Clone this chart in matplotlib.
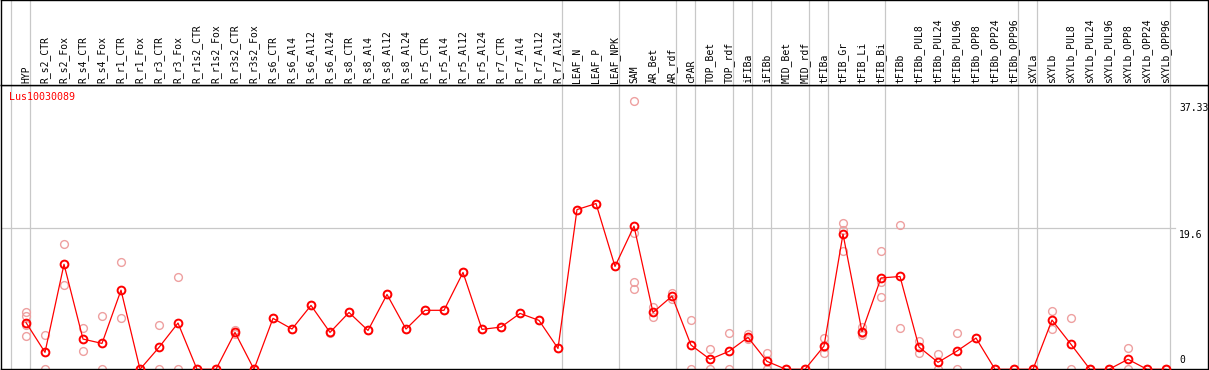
import numpy as np
import matplotlib
matplotlib.use("Agg")
import matplotlib.pyplot as plt
from matplotlib.transforms import offset_copy

gene = "Lus10030089"

samples = ["HYP", "R_s2_CTR", "R_s2_Fox", "R_s4_CTR", "R_s4_Fox", "R_r1_CTR",
           "R_r1_Fox", "R_r3_CTR", "R_r3_Fox", "R_r1s2_CTR", "R_r1s2_Fox",
           "R_r3s2_CTR", "R_r3s2_Fox", "R_s6_CTR", "R_s6_Al4", "R_s6_Al12",
           "R_s6_Al24", "R_s8_CTR", "R_s8_Al4", "R_s8_Al12", "R_s8_Al24",
           "R_r5_CTR", "R_r5_Al4", "R_r5_Al12", "R_r5_Al24", "R_r7_CTR",
           "R_r7_Al4", "R_r7_Al12", "R_r7_Al24", "LEAF_N", "LEAF_P", "LEAF_NPK",
           "SAM", "AR_Bet", "AR_rdf", "cPAR", "TOP_Bet", "TOP_rdf", "iFIBa",
           "iFIBb", "MID_Bet", "MID_rdf", "tFIBa", "tFIB_Gr", "tFIB_Li",
           "tFIB_Bi", "tFIBb", "tFIBb_PUL8", "tFIBb_PUL24", "tFIBb_PUL96",
           "tFIBb_OPP8", "tFIBb_OPP24", "tFIBb_OPP96", "sXYLa", "sXYLb",
           "sXYLb_PUL8", "sXYLb_PUL24", "sXYLb_PUL96", "sXYLb_OPP8",
           "sXYLb_OPP24", "sXYLb_OPP96"]

means = [6.5, 2.36, 14.6, 4.2, 3.6, 11.0, 0, 3.05, 6.43, 0,
         0, 5.13, 0, 7.08, 5.6, 8.88, 5.13, 7.9, 5.4, 10.4,
         5.6, 8.2, 8.2, 13.46, 5.55, 5.87, 7.77, 6.8, 2.9, 22.2,
         23.04, 14.3, 19.9, 7.9, 10.17, 3.37, 1.39, 2.5, 4.44, 1.1,
         0, 0, 3.23, 18.8, 5.22, 12.7, 12.9, 3.1, 0.97, 2.54,
         4.34, 0, 0, 0, 6.84, 3.47, 0, 0, 1.39, 0, 0]

replicates = [[7.9, 7.4, 6.1, 4.6], [4.7, 0], [17.35, 11.7], [5.8, 2.6],
              [7.4, 0], [14.9, 7.1], [0, 0], [6.1, 0], [12.8, 0], [0, 0],
              [0, 0], [5.4, 4.9], [0, 0], [7.1], [5.6], [8.9], [5.1], [7.9],
              [5.4], [10.4], [5.6], [8.2], [8.2], [13.5], [5.55], [5.9],
              [7.8], [6.8], [2.9], [22.2], [23.0], [14.3],
              [37.33, 18.9, 12.2, 11.2], [8.7, 7.3], [10.55, 9.8], [6.8, 0],
              [2.8, 0], [5.0, 0], [4.9, 4.2], [2.3, 0], [0, 0], [0, 0],
              [4.4, 3.1, 2.2], [20.3, 19.4, 16.5], [5.9, 5.0, 4.8],
              [16.4, 12.2, 10.0], [20.1, 5.7], [3.9, 2.2], [2.1, 0], [5.1, 0],
              [4.3], [0, 0], [0, 0], [0, 0], [8.05, 5.6], [7.1, 0], [0, 0],
              [0, 0], [2.9, 0], [0, 0], [0, 0]]

# last sample index of each tissue group (separator drawn right after it)
group_ends = [-1, 0, 28, 31, 34, 35, 37, 38, 39, 41, 42, 45, 52, 53, 60]

y_max = 37.33
y_mid = 19.6

RED = "#ff0000"
PINK = "#eea0a0"
GRID = "#c8c8c8"
FONT = "DejaVu Sans Mono"

W, H, DPI = 1209, 370, 100
fig = plt.figure(figsize=(W / DPI, H / DPI), dpi=DPI)

# pixel geometry of the original
x0_px, step_px = 26, 19
left_px, right_px = 1, 1208
header_px, bottom_px = 85, 369.3
xlim = ((left_px - x0_px) / step_px, (right_px - x0_px) / step_px)
ytop = (bottom_px - header_px) / ((bottom_px - 228.3) / y_mid)

ax = fig.add_axes([left_px / W, (H - bottom_px) / H,
                   (right_px - left_px) / W, (bottom_px - header_px) / H])
hx = fig.add_axes([left_px / W, (H - header_px) / H,
                   (right_px - left_px) / W, header_px / H - 0.001], sharex=ax)

x = np.arange(len(samples))

for a in (ax, hx):
    for g in group_ends:
        a.axvline(g + 0.22, color=GRID, lw=0.9, zorder=0)
    for s in a.spines.values():
        s.set_color("black")
        s.set_linewidth(1.0)
    a.set_xticks([])
    a.set_yticks([])

hx.set_ylim(0, 1)
ax.set_xlim(*xlim)
ax.set_ylim(0, ytop)

ax.plot([xlim[0], 60.45], [y_mid, y_mid], color=GRID, lw=0.9, zorder=0)

# replicate values
for i, reps in enumerate(replicates):
    ax.plot([i] * len(reps), reps, ls="none", marker="o", ms=5.6,
            mfc="none", mec=PINK, mew=1.0, zorder=2)

# mean profile
ax.plot(x, means, color=RED, lw=0.9, marker="o", ms=5.6, mfc="none",
        mec=RED, mew=1.4, zorder=3)

# sample names
lab = offset_copy(hx.transData, fig=fig, x=0, y=2, units="dots")
for i, name in enumerate(samples):
    hx.text(i, 0, name, rotation=90, ha="center", va="bottom",
            fontsize=7, family=FONT, transform=lab)

# gene name
gt = offset_copy(ax.transAxes, fig=fig, x=8, y=-7, units="dots")
ax.text(0, 1, gene, color=RED, fontsize=7.2, family=FONT, ha="left",
        va="top", transform=gt)

# value labels on the right
tx = 60.7
top_t = offset_copy(ax.transData, fig=fig, x=0, y=-2, units="dots")
bot_t = offset_copy(ax.transData, fig=fig, x=0, y=4, units="dots")
ax.text(tx, y_max, f"{y_max:g}", fontsize=7, family=FONT, ha="left",
        va="top", transform=top_t)
ax.text(tx, y_mid, f"{y_mid:g}", fontsize=7, family=FONT, ha="left",
        va="top", transform=top_t)
ax.text(tx, 0, "0", fontsize=7, family=FONT, ha="left", va="bottom",
        transform=bot_t)

fig.savefig("out.png", dpi=DPI)
